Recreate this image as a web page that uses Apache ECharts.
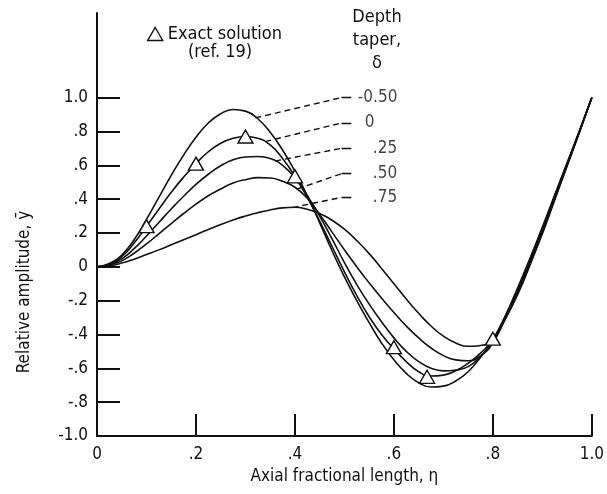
<!DOCTYPE html>
<html><head><meta charset="utf-8">
<script src="https://cdn.jsdelivr.net/npm/echarts@6/dist/echarts.min.js"></script>
<style>html,body{margin:0;padding:0;background:#fff}#c{width:607px;height:494px}</style>
</head><body><div id="c"></div>
<script>
// ---------- data ----------
const eta = [0, 0.025, 0.05, 0.075, 0.1, 0.125, 0.15, 0.175, 0.2, 0.225, 0.25, 0.275, 0.3, 0.325, 0.35, 0.375, 0.4, 0.425, 0.45, 0.475, 0.5,
             0.525, 0.55, 0.575, 0.6, 0.625, 0.65, 0.675, 0.7, 0.725, 0.75, 0.775, 0.8, 0.825, 0.85, 0.875, 0.9, 0.925, 0.95, 0.975, 1.0];
const ampDeltaM050 = [0, 0.02, 0.07, 0.16, 0.28, 0.41, 0.54, 0.66, 0.765, 0.85, 0.905, 0.93, 0.92, 0.875, 0.795, 0.69, 0.565, 0.42, 0.26, 0.095, -0.06,
                      -0.20, -0.33, -0.45, -0.55, -0.63, -0.685, -0.71, -0.705, -0.675, -0.62, -0.535, -0.43, -0.29, -0.125, 0.05, 0.235, 0.425, 0.615, 0.805, 1.0];
const ampDelta000 = [0, 0.015, 0.06, 0.14, 0.24, 0.34, 0.44, 0.53, 0.61, 0.68, 0.73, 0.76, 0.77, 0.76, 0.72, 0.64, 0.535, 0.41, 0.27, 0.12, -0.03,
                     -0.17, -0.295, -0.40, -0.485, -0.56, -0.62, -0.645, -0.64, -0.615, -0.57, -0.51, -0.43, -0.295, -0.135, 0.04, 0.225, 0.418, 0.61, 0.803, 1.0];
const ampDelta025 = [0, 0.012, 0.047, 0.107, 0.182, 0.262, 0.342, 0.417, 0.487, 0.547, 0.597, 0.632, 0.649, 0.652, 0.64, 0.60, 0.525, 0.42, 0.30, 0.165, 0.025,
                     -0.105, -0.22, -0.325, -0.42, -0.50, -0.56, -0.60, -0.615, -0.61, -0.59, -0.53, -0.44, -0.30, -0.145, 0.03, 0.215, 0.41, 0.605, 0.80, 1.0];
const ampDelta050 = [0, 0.01, 0.035, 0.08, 0.135, 0.195, 0.255, 0.315, 0.37, 0.42, 0.46, 0.495, 0.515, 0.527, 0.525, 0.505, 0.47, 0.405, 0.31, 0.205, 0.10,
                     0.0, -0.095, -0.185, -0.27, -0.35, -0.42, -0.48, -0.525, -0.55, -0.555, -0.525, -0.45, -0.305, -0.155, 0.02, 0.205, 0.402, 0.60, 0.797, 1.0];
const ampDelta075 = [0, 0.006, 0.022, 0.045, 0.072, 0.10, 0.13, 0.16, 0.19, 0.22, 0.25, 0.277, 0.30, 0.32, 0.336, 0.348, 0.352, 0.34, 0.315, 0.275, 0.222,
                     0.155, 0.078, -0.01, -0.10, -0.19, -0.275, -0.35, -0.41, -0.45, -0.47, -0.465, -0.43, -0.31, -0.165, 0.01, 0.195, 0.395, 0.595, 0.795, 1.0];
const deltaLabels = ['-0.50', '0', '.25', '.50', '.75'];

const exactEta = [0.1, 0.2, 0.3, 0.4, 0.6, 0.667, 0.8];
const exactAmp = [0.24, 0.61, 0.77, 0.535, -0.475, -0.65, -0.425];

// leader lines (annotation anchors, data units)
const leaderStartEta = [0.32, 0.34, 0.36, 0.405, 0.395];
const leaderStartAmp = [0.88, 0.74, 0.625, 0.46, 0.35];
const leaderKneeAmp = [1.0, 0.85, 0.70, 0.55, 0.41];
const leaderKneeEta = 0.494;
const leaderEndEta = 0.514;

const xTickValues = [0, 0.2, 0.4, 0.6, 0.8, 1.0];
const xTickLabels = ['0', '.2', '.4', '.6', '.8', '1.0'];
const yTickValues = [-1.0, -0.8, -0.6, -0.4, -0.2, 0, 0.2, 0.4, 0.6, 0.8, 1.0];
const yTickLabels = ['-1.0', '-.8', '-.6', '-.4', '-.2', '0', '.2', '.4', '.6', '.8', '1.0'];

// ---------- styling ----------
const FONT = "'DejaVu Sans Condensed','Liberation Sans Narrow','DejaVu Sans',sans-serif";
const INK = '#111';
const labelDistances = [6, 13, 21, 21, 21];

function pairs(xs, ys) { return xs.map((x, i) => [x, ys[i]]); }
function lookup(vals, labels, v) {
  for (let i = 0; i < vals.length; i++) if (Math.abs(vals[i] - v) < 1e-6) return labels[i];
  return '';
}

const curves = [ampDeltaM050, ampDelta000, ampDelta025, ampDelta050, ampDelta075];
const series = curves.map((ys, i) => ({
  name: 'delta ' + deltaLabels[i],
  type: 'line',
  data: pairs(eta, ys),
  smooth: 0.5,
  symbol: 'none',
  lineStyle: { color: INK, width: 1.6, opacity: 1 },
  z: 2
}));

series.push({
  type: 'lines',
  coordinateSystem: 'cartesian2d',
  data: leaderStartEta.map((x, i) => ({ coords: [[x, leaderStartAmp[i]], [leaderKneeEta, leaderKneeAmp[i]]] })),
  lineStyle: { color: INK, width: 1.4, type: [6, 4], opacity: 1, curveness: 0 },
  z: 3
});
series.push({
  type: 'lines',
  coordinateSystem: 'cartesian2d',
  data: leaderKneeAmp.map(y => ({ coords: [[leaderKneeEta, y], [leaderEndEta, y]] })),
  lineStyle: { color: INK, width: 1.4, opacity: 1, curveness: 0 },
  z: 3
});
series.push({
  type: 'scatter',
  data: leaderKneeAmp.map((y, i) => ({
    value: [leaderEndEta, y],
    label: { show: true, position: 'right', distance: labelDistances[i], formatter: deltaLabels[i] }
  })),
  symbolSize: 1,
  itemStyle: { color: 'rgba(0,0,0,0)' },
  label: { color: INK, fontFamily: FONT, fontSize: 17 },
  silent: true,
  z: 3
});
series.push({
  name: 'Exact solution',
  type: 'scatter',
  data: pairs(exactEta, exactAmp),
  symbol: 'triangle',
  symbolSize: [15, 13],
  itemStyle: { color: '#fff', borderColor: INK, borderWidth: 1.4, opacity: 1 },
  z: 5
});

const option = {
  animation: false,
  backgroundColor: '#fff',
  grid: { left: 97, right: 14, top: 13, bottom: 58, containLabel: false },
  legend: {
    data: [{ name: 'Exact solution', icon: 'triangle', itemStyle: { color: '#fff', borderColor: INK, borderWidth: 1.4, opacity: 1 } }],
    left: 142, top: 20,
    itemWidth: 15, itemHeight: 13, itemGap: 5,
    textStyle: { fontFamily: FONT, fontSize: 18, color: INK }
  },
  graphic: [
    { type: 'text', left: 188, top: 43, style: { text: '(ref. 19)', font: '18px ' + FONT, fill: INK } },
    { type: 'text', x: 377, y: 6, style: { text: 'Depth\ntaper,\nδ', font: '18px ' + FONT, fill: INK, textAlign: 'center', lineHeight: 23 } },
    { type: 'text', x: 25, y: 292, rotation: Math.PI / 2,
      style: { text: 'Relative amplitude, ȳ', font: '17px ' + FONT, fill: INK, textAlign: 'center', textVerticalAlign: 'middle' } }
  ],
  xAxis: {
    type: 'value', min: 0, max: 1.0, interval: 0.2,
    name: 'Axial fractional length, η', nameLocation: 'middle', nameGap: 32,
    nameTextStyle: { fontFamily: FONT, fontSize: 17, color: INK },
    axisLine: { show: true, onZero: false, lineStyle: { color: INK, width: 2 } },
    axisTick: { show: true, inside: true, length: 22, lineStyle: { color: INK, width: 2 } },
    axisLabel: { margin: 10, fontFamily: FONT, fontSize: 17, color: INK,
      formatter: v => lookup(xTickValues, xTickLabels, v) },
    splitLine: { show: false }
  },
  yAxis: {
    type: 'value', min: -1.0, max: 1.5,
    axisLine: { show: true, onZero: false, lineStyle: { color: INK, width: 2 } },
    axisTick: { show: true, inside: true, length: 23, customValues: yTickValues, lineStyle: { color: INK, width: 2 } },
    axisLabel: { margin: 9, fontFamily: FONT, fontSize: 17, color: INK, customValues: yTickValues,
      formatter: v => lookup(yTickValues, yTickLabels, v) },
    splitLine: { show: false }
  },
  series: series
};

const chart = echarts.init(document.getElementById('c'), null, { renderer: 'canvas' });
chart.setOption(option);
</script>
</body></html>
